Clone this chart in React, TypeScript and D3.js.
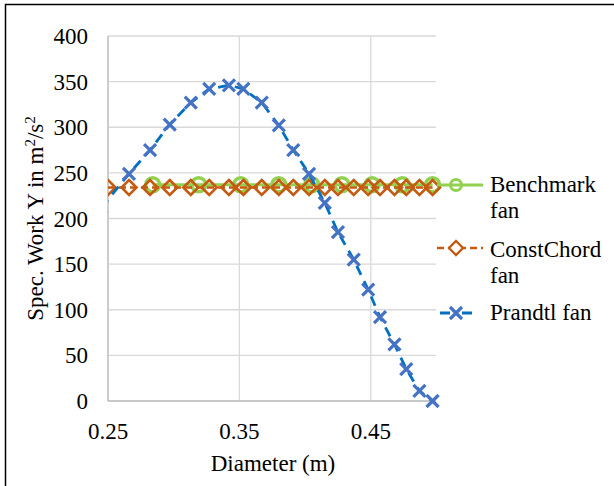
import React from "react";
import { scaleLinear, line } from "d3";

const xTicks = [0.25, 0.35, 0.45];
const yTicks = [0, 50, 100, 150, 200, 250, 300, 350, 400];

// Prandtl fan (first point sits just left of the axis and is clipped)
const prandtlX = [0.245, 0.266, 0.282, 0.297, 0.313, 0.327, 0.342, 0.353, 0.367, 0.38, 0.391, 0.403, 0.415, 0.425, 0.437, 0.448, 0.457, 0.468, 0.477, 0.487, 0.497];
const prandtlY = [212, 249, 275, 303, 327, 342, 346, 342, 327, 302, 275, 249, 217, 185, 155, 122, 92, 62, 35, 11, 0];

const constChordX = [0.25, 0.266, 0.282, 0.297, 0.313, 0.327, 0.342, 0.353, 0.367, 0.38, 0.391, 0.403, 0.415, 0.425, 0.437, 0.448, 0.457, 0.468, 0.477, 0.487, 0.497];
const constChordY = [234, 234, 234, 234, 234, 234, 234, 234, 234, 234, 234, 234, 234, 234, 234, 234, 234, 234, 234, 234, 234];

const benchmarkX = [0.284, 0.319, 0.351, 0.38, 0.405, 0.428, 0.451, 0.474, 0.497];
const benchmarkY = [237, 237, 237, 237, 237, 237, 237, 237, 237];

const seriesNames = ["Benchmark fan", "ConstChord fan", "Prandtl fan"];

const GREEN = "#92D050";
const ORANGE = "#C55A11";
const BLUE_LINE = "#0070C0";
const BLUE_MARK = "#4472C4";
const txt = { fontFamily: "Liberation Serif, Times New Roman, DejaVu Serif, serif", fontSize: "23px" };

const W = 614;
const H = 486;
const plot = { left: 108, right: 436, top: 36, bottom: 401 };

function App() {
  const x = scaleLinear().domain([0.25, 0.5]).range([plot.left, plot.right + 0.5]);
  const y = scaleLinear().domain([0, 400]).range([plot.bottom, plot.top]);

  const pts = (xs: number[], ys: number[]) => xs.map((d, i) => [d, ys[i]] as [number, number]);
  const path = line<[number, number]>()
    .x(d => x(d[0]))
    .y(d => y(d[1]));

  const bench = pts(benchmarkX, benchmarkY);
  const chord = pts(constChordX, constChordY);
  const prandtl = pts(prandtlX, prandtlY);

  const cross = (cx: number, cy: number, k: string) => (
    <path
      key={k}
      d={`M${cx - 6},${cy - 6}L${cx + 6},${cy + 6}M${cx - 6},${cy + 6}L${cx + 6},${cy - 6}`}
      stroke={BLUE_MARK}
      strokeWidth={3.2}
      fill="none"
    />
  );
  const diamond = (cx: number, cy: number, k: string) => (
    <path
      key={k}
      d={`M${cx},${cy - 7.5}L${cx + 7.5},${cy}L${cx},${cy + 7.5}L${cx - 7.5},${cy}Z`}
      stroke={ORANGE}
      strokeWidth={2.6}
      fill="none"
    />
  );

  const legX = 490;
  const symX = 456;

  return (
    <svg width={W} height={H} style={{ position: "absolute", left: 0, top: 0, background: "#fff" }}>
      <rect x={0} y={0} width={W} height={H} fill="#fff" />
      {/* frame */}
      <path d={`M5.5,${H}V4.5H${W}`} stroke="#000" strokeWidth={1.5} fill="none" />

      <defs>
        <clipPath id="plotClip">
          <rect x={plot.left} y={plot.top - 10} width={plot.right - plot.left + 10} height={plot.bottom - plot.top + 20} />
        </clipPath>
      </defs>

      {/* gridlines */}
      {yTicks.map(t => (
        <line key={"gy" + t} x1={plot.left} x2={plot.right} y1={y(t)} y2={y(t)} stroke="#d9d9d9" strokeWidth={1.3} />
      ))}
      {xTicks.map(t => (
        <line key={"gx" + t} x1={x(t)} x2={x(t)} y1={plot.top} y2={plot.bottom} stroke="#d9d9d9" strokeWidth={1.3} />
      ))}
      <line x1={plot.left} x2={plot.left} y1={plot.top} y2={plot.bottom} stroke="#bfbfbf" strokeWidth={1.3} />
      <line x1={plot.left} x2={plot.right} y1={plot.bottom} y2={plot.bottom} stroke="#bfbfbf" strokeWidth={1.3} />

      {/* tick labels */}
      {yTicks.map(t => (
        <text key={"ty" + t} x={88} y={y(t) + 8} textAnchor="end" style={txt} fill="#000">
          {t}
        </text>
      ))}
      {xTicks.map(t => (
        <text key={"tx" + t} x={x(t)} y={439} textAnchor="middle" style={txt} fill="#000">
          {t.toFixed(2)}
        </text>
      ))}
      <text x={273} y={471} textAnchor="middle" style={txt} fill="#000">
        Diameter (m)
      </text>
      <text
        transform={`translate(43,${(plot.top + plot.bottom) / 2}) rotate(-90)`}
        textAnchor="middle"
        style={txt}
        fill="#000"
      >
        Spec. Work Y in m<tspan dy={-8} style={{ fontSize: "15px" }}>2</tspan>
        <tspan dy={8}>/s</tspan>
        <tspan dy={-8} style={{ fontSize: "15px" }}>2</tspan>
      </text>

      <g clipPath="url(#plotClip)">
        {/* Benchmark */}
        <path d={path(bench) || ""} stroke={GREEN} strokeWidth={2.8} fill="none" />
        {bench.map((d, i) => (
          <circle key={"b" + i} cx={x(d[0])} cy={y(d[1])} r={7} stroke={GREEN} strokeWidth={3.5} fill="none" />
        ))}
        {/* ConstChord */}
        <path d={path(chord) || ""} stroke={ORANGE} strokeWidth={2.5} strokeDasharray="7,4" fill="none" />
        {chord.map((d, i) => diamond(x(d[0]), y(d[1]), "c" + i))}
        {/* Prandtl */}
        <path d={path(prandtl) || ""} stroke={BLUE_LINE} strokeWidth={2.8} strokeDasharray="10,7" fill="none" />
        {prandtl.map((d, i) => cross(x(d[0]), y(d[1]), "p" + i))}
      </g>

      {/* legend */}
      <line x1={437} x2={483} y1={185} y2={185} stroke={GREEN} strokeWidth={2.8} />
      <circle cx={symX} cy={185} r={5.5} stroke={GREEN} strokeWidth={3} fill="none" />
      <text x={legX} y={192} style={txt} fill="#000">Benchmark</text>
      <text x={legX} y={218} style={txt} fill="#000">fan</text>

      <line x1={437} x2={483} y1={248} y2={248} stroke={ORANGE} strokeWidth={2.5} strokeDasharray="7,4" />
      <path d={`M${symX},241L${symX + 7},248L${symX},255L${symX - 7},248Z`} stroke={ORANGE} strokeWidth={2.4} fill="#fff" />
      <text x={legX} y={257} style={txt} fill="#000">ConstChord</text>
      <text x={legX} y={283} style={txt} fill="#000">fan</text>

      <line x1={437} x2={483} y1={313} y2={313} stroke={BLUE_LINE} strokeWidth={2.8} strokeDasharray="10,12" strokeDashoffset={-3} />
      {cross(symX, 313, "lp")}
      <text x={legX} y={320} style={txt} fill="#000">{seriesNames[2]}</text>
    </svg>
  );
}

export default App;
